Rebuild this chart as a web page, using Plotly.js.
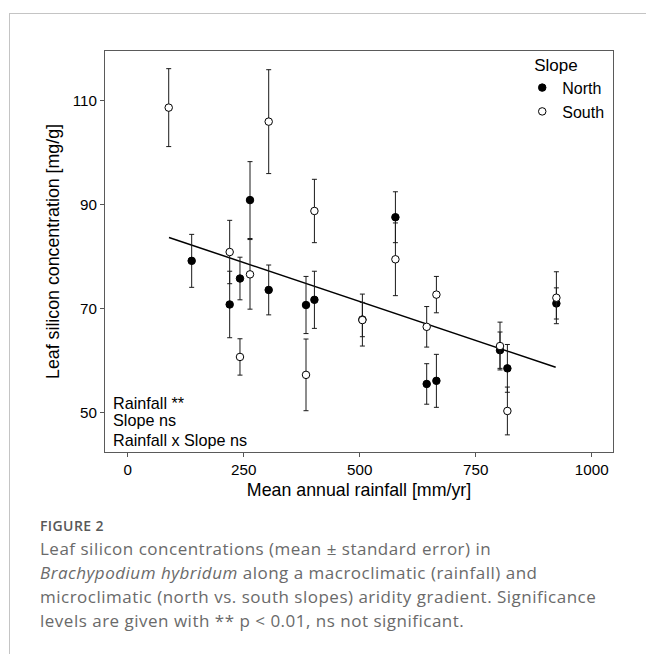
<!DOCTYPE html>
<html>
<head>
<meta charset="utf-8">
<script src="https://cdn.plot.ly/plotly-3.0.1.min.js"></script>
<style>
  html, body { margin: 0; padding: 0; background: #fff; }
  body { width: 646px; height: 654px; position: relative; overflow: hidden; }
  #chart { position: absolute; left: 0; top: 0; width: 646px; height: 654px; }
  #frameTop { position: absolute; left: 9px; top: 13px; width: 640px; height: 0; border-top: 1px solid #c4c4c4; z-index: 5; }
  #frameLeft { position: absolute; left: 9px; top: 13px; width: 0; height: 650px; border-left: 1px solid #c4c4c4; z-index: 5; }
  #figlabel { position: absolute; left: 40px; top: 516px; font-family: "Open Sans", sans-serif; font-weight: 600; font-size: 14px; letter-spacing: 0.4px; line-height: 20px; color: #595959; z-index: 5; }
  #caption { position: absolute; left: 40px; top: 537px; width: 606px; white-space: nowrap; font-family: "Open Sans", sans-serif; font-size: 17px; letter-spacing: 0.5px; line-height: 24px; color: #6a6a6a; z-index: 5; }
</style>
</head>
<body>
<div id="chart"></div>
<div id="frameTop"></div>
<div id="frameLeft"></div>
<div id="figlabel">FIGURE 2</div>
<div id="caption">Leaf silicon concentrations (mean ± standard error) in<br><i>Brachypodium hybridum</i> along a macroclimatic (rainfall) and<br>microclimatic (north vs. south slopes) aridity gradient. Significance<br>levels are given with ** p &lt; 0.01, ns not significant.</div>
<script>
// Data
const rainfallNorth = [137.9, 219.8, 242, 263.6, 303.9, 384.3, 402.4, 505.8, 577, 644.4, 665.3, 802.4, 818.3, 923.9];
const siliconNorth  = [79.2, 70.8, 75.8, 90.9, 73.6, 70.7, 71.7, 67.9, 87.6, 55.5, 56.1, 62.0, 58.5, 71.0];
const seNorth       = [5.1, 6.4, 4.1, 7.4, 4.8, 5.5, 5.5, 3.3, 4.9, 3.9, 5.1, 3.5, 4.6, 3.0];

const rainfallSouth = [88.4, 219.8, 242, 263.6, 303.9, 384.3, 402.4, 505.8, 577, 644.4, 665.3, 802.4, 818.3, 923.9];
const siliconSouth  = [108.7, 80.9, 60.7, 76.6, 106.0, 57.25, 88.8, 67.8, 79.5, 66.5, 72.7, 62.8, 50.3, 72.1];
const seSouth       = [7.5, 6.1, 3.5, 6.7, 10.0, 6.9, 6.1, 5.0, 7.0, 3.9, 3.5, 4.6, 4.6, 5.0];

const fitRainfall = [89, 922.4];
const fitSilicon  = [83.7, 58.7];

const xTicks = [0, 250, 500, 750, 1000];
const yTicks = [50, 70, 90, 110];

const statLines = ["Rainfall **", "Slope ns", "Rainfall x Slope ns"];

const FONT = "Liberation Sans, Arial, sans-serif";

const traces = [
  {
    x: fitRainfall, y: fitSilicon, type: "scatter", mode: "lines",
    line: {color: "#000", width: 1.5}, showlegend: false, hoverinfo: "skip"
  },
  {
    x: rainfallNorth, y: siliconNorth, type: "scatter", mode: "markers", name: "North",
    marker: {symbol: "circle", size: 7.5, color: "#000", line: {color: "#000", width: 1}},
    error_y: {type: "data", array: seNorth, visible: true, color: "#1a1a1a", thickness: 1, width: 2.5}
  },
  {
    x: rainfallSouth, y: siliconSouth, type: "scatter", mode: "markers", name: "South",
    marker: {symbol: "circle", size: 7.5, color: "#fff", line: {color: "#000", width: 1}},
    error_y: {type: "data", array: seSouth, visible: true, color: "#1a1a1a", thickness: 1, width: 2.5}
  }
];

const statY = [0.122, 0.0804, 0.0289];
const annotations = statLines.map((t, i) => ({
  text: t, xref: "paper", yref: "paper", x: 0.011, y: statY[i],
  xanchor: "left", yanchor: "middle", showarrow: false,
  font: {family: FONT, size: 16.2, color: "#000"}
}));

const layout = {
  width: 646, height: 654,
  margin: {l: 105, r: 33, t: 51, b: 202},
  paper_bgcolor: "rgba(0,0,0,0)",
  plot_bgcolor: "#fff",
  font: {family: FONT, color: "#000"},
  xaxis: {
    range: [-48.9, 1045.9], tickvals: xTicks, ticktext: xTicks.map(String),
    ticks: "outside", ticklen: 4, tickcolor: "#555", tickwidth: 1,
    showline: true, linecolor: "#5a5a5a", linewidth: 1, mirror: true,
    showgrid: false, zeroline: false,
    tickfont: {family: FONT, size: 15.2, color: "#000"},
    title: {text: "Mean annual rainfall [mm/yr]", font: {family: FONT, size: 17.8, color: "#000"}, standoff: 6}
  },
  yaxis: {
    range: [42.4, 119.6], tickvals: yTicks, ticktext: yTicks.map(String),
    ticks: "outside", ticklen: 4, tickcolor: "#555", tickwidth: 1,
    showline: true, linecolor: "#5a5a5a", linewidth: 1, mirror: true,
    showgrid: false, zeroline: false,
    tickfont: {family: FONT, size: 15.2, color: "#000"},
    title: {text: "Leaf silicon concentration [mg/g]", font: {family: FONT, size: 17.8, color: "#000"}, standoff: 8}
  },
  legend: {
    title: {text: "Slope", font: {family: FONT, size: 17, color: "#000"}},
    font: {family: FONT, size: 16, color: "#000"},
    x: 0.841, xanchor: "left", y: 1.006, yanchor: "top",
    bgcolor: "rgba(0,0,0,0)", borderwidth: 0, indentation: -10
  },
  annotations: annotations,
  showlegend: true
};

Plotly.newPlot("chart", traces, layout, {displayModeBar: false, staticPlot: true});
</script>
</body>
</html>
